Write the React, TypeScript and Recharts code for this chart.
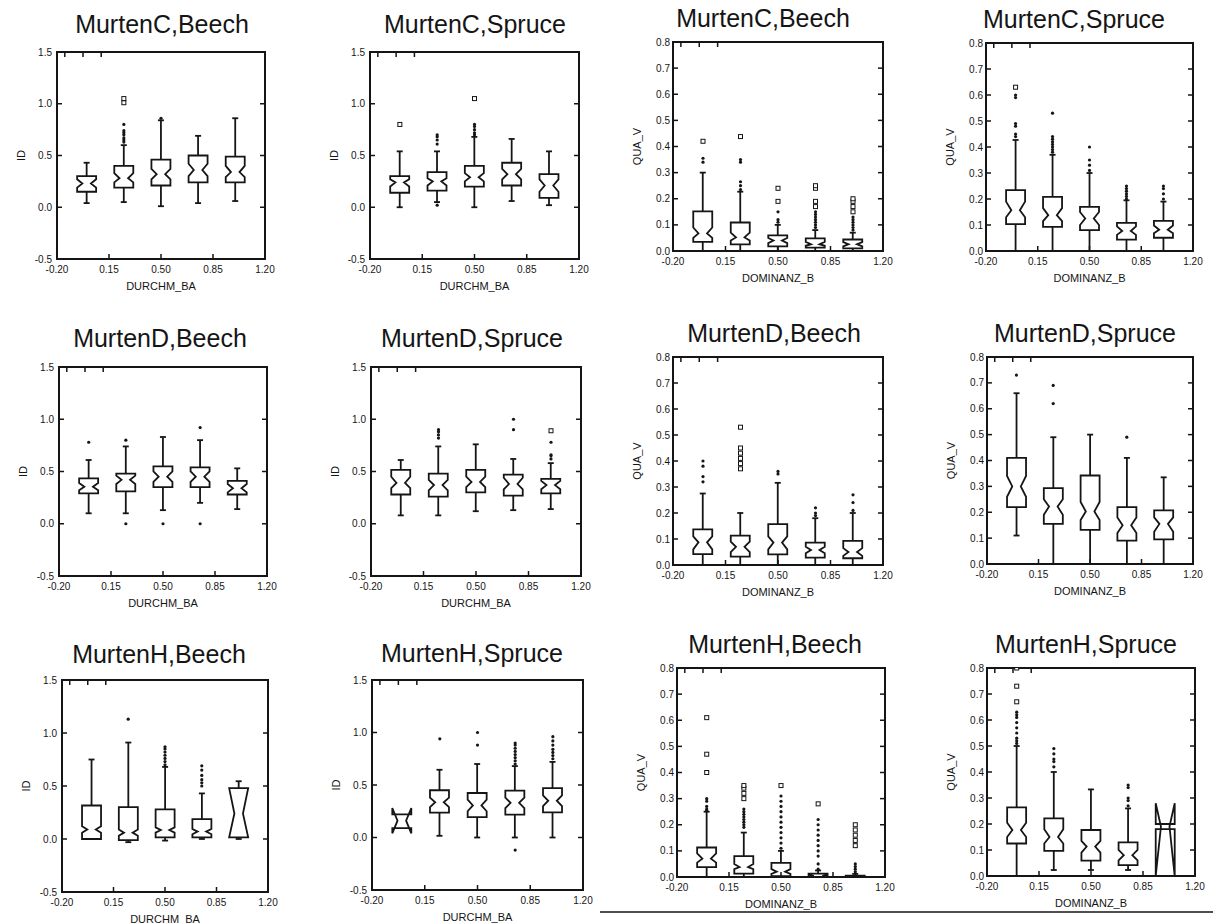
import React from "react";
import { ComposedChart, Bar, Scatter, XAxis, YAxis, ReferenceArea } from "recharts";

// box rows: [whiskerLow, q1, notchLow, median, notchHigh, q3, whiskerHigh]
const boxX = [0, 0.25, 0.5, 0.75, 1.0];
const xTicks = [-0.2, 0.15, 0.5, 0.85, 1.2];
const idTicks = [-0.5, 0, 0.5, 1.0, 1.5];
const quaTicks = [0, 0.1, 0.2, 0.3, 0.4, 0.5, 0.6, 0.7, 0.8];

// MurtenC
const cBeechId = [
  [0.04, 0.15, 0.19, 0.23, 0.27, 0.3, 0.43],
  [0.05, 0.19, 0.24, 0.28, 0.33, 0.4, 0.6],
  [0.01, 0.21, 0.27, 0.32, 0.37, 0.46, 0.84],
  [0.04, 0.24, 0.3, 0.36, 0.42, 0.5, 0.69],
  [0.06, 0.24, 0.29, 0.34, 0.4, 0.49, 0.86],
];
const cBeechIdNear = [[], [0.63, 0.65, 0.67, 0.7, 0.72, 0.74, 0.8], [0.86], [], []];
const cBeechIdFar = [[], [1.01, 1.05], [], [], []];

const cSpruceId = [
  [0.0, 0.14, 0.2, 0.24, 0.27, 0.3, 0.54],
  [0.05, 0.16, 0.21, 0.25, 0.28, 0.34, 0.54],
  [0.0, 0.2, 0.25, 0.29, 0.33, 0.4, 0.68],
  [0.06, 0.21, 0.27, 0.32, 0.37, 0.43, 0.66],
  [0.02, 0.09, 0.15, 0.21, 0.27, 0.32, 0.54],
];
const cSpruceIdNear = [[], [0.02, 0.61, 0.65, 0.68, 0.7], [0.7, 0.72, 0.75, 0.78, 0.8], [], []];
const cSpruceIdFar = [[0.8], [], [1.05], [], []];

const cBeechQua = [
  [0, 0.035, 0.05, 0.067, 0.09, 0.152, 0.3],
  [0, 0.025, 0.04, 0.052, 0.07, 0.109, 0.227],
  [0, 0.018, 0.03, 0.04, 0.05, 0.06, 0.1],
  [0, 0.013, 0.02, 0.026, 0.035, 0.048, 0.08],
  [0, 0.01, 0.018, 0.026, 0.034, 0.044, 0.07],
];
const cBeechQuaNear = [
  [0.34, 0.355],
  [0.235, 0.25, 0.265, 0.34, 0.35],
  [0.11, 0.12, 0.15],
  [0.09, 0.1, 0.11, 0.12, 0.13, 0.14, 0.15],
  [0.08, 0.09, 0.1, 0.11, 0.12, 0.13],
];
const cBeechQuaFar = [[0.42], [0.438], [0.19, 0.24], [0.17, 0.19, 0.24, 0.25], [0.15, 0.17, 0.19, 0.2]];

const cSpruceQua = [
  [0, 0.103, 0.13, 0.157, 0.19, 0.234, 0.427],
  [0, 0.093, 0.115, 0.138, 0.165, 0.208, 0.37],
  [0, 0.08, 0.1, 0.125, 0.15, 0.17, 0.3],
  [0, 0.044, 0.062, 0.077, 0.095, 0.108, 0.195],
  [0, 0.051, 0.068, 0.082, 0.098, 0.116, 0.19],
];
const cSpruceQuaNear = [
  [0.44, 0.45, 0.48, 0.49, 0.59, 0.6],
  [0.38, 0.39, 0.4, 0.41, 0.42, 0.43, 0.44, 0.53],
  [0.31, 0.33, 0.35, 0.4],
  [0.2, 0.21, 0.22, 0.23, 0.24, 0.25],
  [0.2, 0.22, 0.24, 0.25],
];
const cSpruceQuaFar = [[0.63], [], [], [], []];

// MurtenD
const dBeechId = [
  [0.1, 0.29, 0.32, 0.355, 0.39, 0.435, 0.61],
  [0.1, 0.31, 0.38, 0.42, 0.46, 0.48, 0.74],
  [0.13, 0.35, 0.4, 0.45, 0.5, 0.55, 0.83],
  [0.2, 0.35, 0.4, 0.45, 0.5, 0.54, 0.8],
  [0.14, 0.28, 0.3, 0.34, 0.38, 0.41, 0.53],
];
const dBeechIdNear = [[0.78], [0.0, 0.8], [0.0], [0.0, 0.92], []];
const dBeechIdFar = [[], [], [], [], []];

const dSpruceId = [
  [0.08, 0.28, 0.34, 0.39, 0.45, 0.515, 0.61],
  [0.08, 0.26, 0.32, 0.37, 0.42, 0.48, 0.74],
  [0.12, 0.3, 0.35, 0.4, 0.45, 0.515, 0.76],
  [0.13, 0.27, 0.33, 0.38, 0.44, 0.47, 0.62],
  [0.14, 0.29, 0.33, 0.37, 0.41, 0.43, 0.58],
];
const dSpruceIdNear = [[], [0.82, 0.85, 0.88, 0.9], [], [0.9, 1.0], [0.62, 0.65, 0.66, 0.78]];
const dSpruceIdFar = [[], [], [], [], [0.89]];

const dBeechQua = [
  [0, 0.042, 0.06, 0.087, 0.11, 0.137, 0.275],
  [0, 0.032, 0.05, 0.07, 0.09, 0.113, 0.2],
  [0, 0.041, 0.06, 0.086, 0.11, 0.157, 0.316],
  [0, 0.028, 0.045, 0.058, 0.07, 0.086, 0.18],
  [0, 0.026, 0.035, 0.05, 0.065, 0.093, 0.2],
];
const dBeechQuaNear = [[0.32, 0.34, 0.38, 0.4], [], [0.35, 0.36], [0.19, 0.2, 0.22], [0.21, 0.24, 0.27]];
const dBeechQuaFar = [[], [0.37, 0.39, 0.41, 0.43, 0.45, 0.53], [], [], []];

const dSpruceQua = [
  [0.11, 0.22, 0.26, 0.3, 0.34, 0.41, 0.66],
  [0, 0.155, 0.19, 0.222, 0.25, 0.293, 0.49],
  [0, 0.132, 0.17, 0.203, 0.24, 0.342, 0.5],
  [0, 0.09, 0.12, 0.15, 0.18, 0.22, 0.41],
  [0, 0.095, 0.125, 0.155, 0.18, 0.207, 0.335],
];
const dSpruceQuaNear = [[0.73], [0.62, 0.69], [], [0.49], []];
const dSpruceQuaFar = [[], [], [], [], []];

// MurtenH
const hBeechId = [
  [0.0, 0.0, 0.06, 0.09, 0.12, 0.316, 0.75],
  [-0.03, -0.01, 0.03, 0.06, 0.09, 0.3, 0.91],
  [-0.015, 0.016, 0.06, 0.085, 0.11, 0.28, 0.68],
  [0.0, 0.016, 0.045, 0.07, 0.095, 0.187, 0.43],
  [0.0, 0.016, 0.016, 0.24, 0.48, 0.48, 0.545],
];
const hBeechIdNear = [[], [1.13], [0.7, 0.73, 0.76, 0.79, 0.82, 0.85, 0.87], [0.5, 0.53, 0.56, 0.6, 0.65, 0.69], []];
const hBeechIdFar = [[], [], [], [], []];

const hSpruceId = [
  [0.09, 0.09, 0.04, 0.16, 0.28, 0.22, 0.22],
  [0.016, 0.236, 0.29, 0.336, 0.38, 0.45, 0.645],
  [0.0, 0.195, 0.25, 0.305, 0.36, 0.424, 0.7],
  [0.0, 0.217, 0.28, 0.33, 0.38, 0.447, 0.68],
  [0.0, 0.24, 0.3, 0.35, 0.4, 0.47, 0.72],
];
const hSpruceIdNear = [
  [],
  [0.94],
  [0.88, 1.0],
  [-0.12, 0.7, 0.73, 0.76, 0.79, 0.82, 0.85, 0.88, 0.9],
  [0.75, 0.78, 0.81, 0.84, 0.88, 0.92, 0.96],
];
const hSpruceIdFar = [[], [], [], [], []];

const hBeechQua = [
  [0, 0.038, 0.055, 0.07, 0.09, 0.113, 0.25],
  [0, 0.013, 0.03, 0.038, 0.05, 0.08, 0.17],
  [0, 0.003, 0.012, 0.02, 0.03, 0.054, 0.1],
  [0, 0.0, 0.002, 0.004, 0.008, 0.013, 0.025],
  [0, 0.0, 0.001, 0.002, 0.003, 0.005, 0.012],
];
const hBeechQuaNear = [
  [0.255, 0.26, 0.27, 0.29, 0.3],
  [0.19, 0.2, 0.21, 0.22, 0.23, 0.24, 0.25, 0.26],
  [0.11, 0.13, 0.15, 0.17, 0.19, 0.21, 0.23, 0.25, 0.27, 0.29, 0.31],
  [0.03, 0.05, 0.08, 0.1, 0.12, 0.14, 0.16, 0.18, 0.2, 0.22],
  [0.02, 0.03, 0.04, 0.05],
];
const hBeechQuaFar = [[0.4, 0.47, 0.61], [0.3, 0.32, 0.34, 0.35], [0.35], [0.28], [0.12, 0.14, 0.16, 0.18, 0.2]];

const hSpruceQua = [
  [0, 0.125, 0.15, 0.177, 0.205, 0.264, 0.5],
  [0.023, 0.097, 0.125, 0.15, 0.18, 0.222, 0.4],
  [0.023, 0.059, 0.09, 0.113, 0.135, 0.177, 0.333],
  [0.023, 0.042, 0.06, 0.08, 0.1, 0.129, 0.26],
  [0.18, 0.18, 0.0, 0.19, 0.28, 0.2, 0.2],
];
const hSpruceQuaNear = [
  [0.51, 0.52, 0.53, 0.55, 0.57, 0.59, 0.61, 0.62, 0.63],
  [0.42, 0.44, 0.45, 0.47, 0.49],
  [],
  [0.27, 0.29, 0.3, 0.34, 0.35],
  [],
];
const hSpruceQuaFar = [[0.67, 0.73, 0.8], [], [], [], []];

const panels = [
  { title: "MurtenC,Beech", kind: "id", stats: cBeechId, near: cBeechIdNear, far: cBeechIdFar },
  { title: "MurtenC,Spruce", kind: "id", stats: cSpruceId, near: cSpruceIdNear, far: cSpruceIdFar },
  { title: "MurtenC,Beech", kind: "qua", stats: cBeechQua, near: cBeechQuaNear, far: cBeechQuaFar },
  { title: "MurtenC,Spruce", kind: "qua", stats: cSpruceQua, near: cSpruceQuaNear, far: cSpruceQuaFar },
  { title: "MurtenD,Beech", kind: "id", stats: dBeechId, near: dBeechIdNear, far: dBeechIdFar },
  { title: "MurtenD,Spruce", kind: "id", stats: dSpruceId, near: dSpruceIdNear, far: dSpruceIdFar },
  { title: "MurtenD,Beech", kind: "qua", stats: dBeechQua, near: dBeechQuaNear, far: dBeechQuaFar },
  { title: "MurtenD,Spruce", kind: "qua", stats: dSpruceQua, near: dSpruceQuaNear, far: dSpruceQuaFar },
  { title: "MurtenH,Beech", kind: "id", stats: hBeechId, near: hBeechIdNear, far: hBeechIdFar },
  { title: "MurtenH,Spruce", kind: "id", stats: hSpruceId, near: hSpruceIdNear, far: hSpruceIdFar },
  { title: "MurtenH,Beech", kind: "qua", stats: hBeechQua, near: hBeechQuaNear, far: hBeechQuaFar },
  { title: "MurtenH,Spruce", kind: "qua", stats: hSpruceQua, near: hSpruceQuaNear, far: hSpruceQuaFar },
];

// plot-area placement of each panel on the page
const layout = [
  { left: 57, top: 52, w: 208, h: 207, tx: 162, ty: 33 },
  { left: 370, top: 52, w: 209, h: 207, tx: 475, ty: 33 },
  { left: 673, top: 42, w: 210, h: 209, tx: 763, ty: 27 },
  { left: 986, top: 43, w: 207, h: 208, tx: 1074, ty: 28 },
  { left: 59, top: 367, w: 208, h: 209, tx: 160, ty: 347 },
  { left: 371, top: 367, w: 210, h: 209, tx: 472, ty: 347 },
  { left: 673, top: 357, w: 210, h: 208, tx: 774, ty: 342 },
  { left: 987, top: 357, w: 206, h: 207, tx: 1085, ty: 342 },
  { left: 62, top: 680, w: 206, h: 212, tx: 159, ty: 663 },
  { left: 372, top: 680, w: 211, h: 210, tx: 472, ty: 662 },
  { left: 677, top: 668, w: 208, h: 209, tx: 775, ty: 653 },
  { left: 987, top: 668, w: 208, h: 208, tx: 1086, ty: 653 },
];

const INK = "#151515";
const FONT = "'Liberation Sans', Arial, Helvetica, sans-serif";
const Y_W = 42;
const X_H = 36;
const PAD_T = 5;
const PAD_R = 14;
const TICK = 5;
const X_GAP = 7;

function NotchBox(props: any) {
  const { x, y, width, height, payload } = props;
  if (!payload) return null;
  const [lo, hi] = payload.range;
  const [wl, q1, nl, md, nh, q3, wh] = payload.s;
  const py = (v: number) => y + (height * (hi - v)) / (hi - lo);
  const c = x + width / 2;
  const h = width / 2;
  const n = h * 0.45;
  const cap = 3;
  const d =
    `M${c - h},${py(q1)}L${c - h},${py(nl)}L${c - n},${py(md)}L${c - h},${py(nh)}L${c - h},${py(q3)}` +
    `L${c + h},${py(q3)}L${c + h},${py(nh)}L${c + n},${py(md)}L${c + h},${py(nl)}L${c + h},${py(q1)}Z`;
  return (
    <g stroke={INK} strokeWidth={1.8} fill="none">
      {wh > q3 && (
        <>
          <line x1={c} x2={c} y1={py(q3)} y2={py(wh)} />
          <line x1={c - cap} x2={c + cap} y1={py(wh)} y2={py(wh)} />
        </>
      )}
      {wl < q1 && (
        <>
          <line x1={c} x2={c} y1={py(q1)} y2={py(wl)} />
          <line x1={c - cap} x2={c + cap} y1={py(wl)} y2={py(wl)} />
        </>
      )}
      <path d={d} strokeLinejoin="miter" />
    </g>
  );
}

const NearDot = (p: any) => <circle cx={p.cx} cy={p.cy} r={1.6} fill={INK} />;
const FarSquare = (p: any) => (
  <rect x={p.cx - 2} y={p.cy - 2} width={4} height={4} fill="#fff" stroke={INK} strokeWidth={1} />
);

// tick renderers: label plus a short inward tick mark (not at the frame corners)
const isEdge = (v: number, ticks: number[]) => v === ticks[0] || v === ticks[ticks.length - 1];

const BottomTick = (p: any) => (
  <g>
    {!isEdge(p.payload.value, xTicks) && (
      <line x1={p.x} x2={p.x} y1={p.y - X_GAP} y2={p.y - X_GAP - TICK} stroke={INK} strokeWidth={1.5} />
    )}
    <text x={p.x} y={p.y} dy="0.71em" textAnchor="middle" fontSize={10} fontFamily={FONT} fill={INK}>
      {Number(p.payload.value).toFixed(2)}
    </text>
  </g>
);
const TopTick = (p: any) =>
  isEdge(p.payload.value, xTicks) ? <g /> : (
    <line x1={p.x} x2={p.x} y1={p.y} y2={p.y + TICK} stroke={INK} strokeWidth={1.5} />
  );
const makeLeftTick = (gap: number, ticks: number[]) => (p: any) => (
  <g>
    {!isEdge(p.payload.value, ticks) && (
      <line x1={p.x + gap} x2={p.x + gap + TICK} y1={p.y} y2={p.y} stroke={INK} strokeWidth={1.5} />
    )}
    <text x={p.x} y={p.y} dy="0.355em" textAnchor="end" fontSize={10} fontFamily={FONT} fill={INK}>
      {Number(p.payload.value).toFixed(1)}
    </text>
  </g>
);
const makeRightTick = (ticks: number[]) => (p: any) =>
  isEdge(p.payload.value, ticks) ? <g /> : (
    <line x1={p.x} x2={p.x - TICK} y1={p.y} y2={p.y} stroke={INK} strokeWidth={1.5} />
  );
const LeftTickId = makeLeftTick(5, idTicks);
const LeftTickQua = makeLeftTick(3, quaTicks);
const RightTickId = makeRightTick(idTicks);
const RightTickQua = makeRightTick(quaTicks);

function Panel({ panel, box }: { panel: (typeof panels)[number]; box: (typeof layout)[number] }) {
  const isId = panel.kind === "id";
  const yTicks = isId ? idTicks : quaTicks;
  const yDomain = isId ? [-0.5, 1.5] : [0, 0.8];
  const rows = panel.stats.map((s, i) => ({
    x: boxX[i],
    range: [Math.min(...s), Math.max(...s)],
    s,
  }));
  const nearPts = panel.near.flatMap((vals, i) => vals.map((v) => ({ x: boxX[i], y: v })));
  const farPts = panel.far.flatMap((vals, i) => vals.map((v) => ({ x: boxX[i], y: v })));

  return (
    <div style={{ position: "absolute", left: box.left - Y_W, top: box.top - PAD_T - 1 }}>
      <ComposedChart
        width={Y_W + box.w + 1 + PAD_R}
        height={PAD_T + 1 + box.h + X_H}
        data={rows}
        margin={{ top: PAD_T, right: PAD_R, bottom: 0, left: 0 }}
      >
        <XAxis
          dataKey="x"
          type="number"
          domain={[-0.2, 1.2]}
          ticks={xTicks}
          allowDataOverflow
          interval={0}
          height={X_H}
          tickSize={0}
          tickMargin={X_GAP}
          tick={BottomTick}
          axisLine={false}
          tickLine={false}
          label={{
            value: isId ? "DURCHM_BA" : "DOMINANZ_B",
            position: "insideBottom",
            offset: 5,
            style: { fontSize: 11, fill: INK, fontFamily: FONT },
          }}
        />
        <XAxis
          xAxisId="top"
          orientation="top"
          type="number"
          domain={[-0.2, 1.2]}
          ticks={xTicks}
          allowDataOverflow
          interval={0}
          height={1}
          tickSize={0}
          tickMargin={0}
          tick={TopTick}
          axisLine={false}
          tickLine={false}
        />
        <YAxis
          type="number"
          domain={yDomain}
          ticks={yTicks}
          allowDataOverflow
          interval={0}
          width={Y_W}
          tickSize={0}
          tickMargin={isId ? 5 : 3}
          tick={isId ? LeftTickId : LeftTickQua}
          axisLine={false}
          tickLine={false}
          label={{
            value: isId ? "ID" : "QUA_V",
            angle: -90,
            position: "insideLeft",
            offset: 6,
            style: { fontSize: 11, fill: INK, fontFamily: FONT, textAnchor: "middle" },
          }}
        />
        <YAxis
          yAxisId="right"
          orientation="right"
          type="number"
          domain={yDomain}
          ticks={yTicks}
          allowDataOverflow
          interval={0}
          width={1}
          tickSize={0}
          tickMargin={0}
          tick={isId ? RightTickId : RightTickQua}
          axisLine={false}
          tickLine={false}
        />
        <ReferenceArea
          x1={-0.2}
          x2={1.2}
          y1={yDomain[0]}
          y2={yDomain[1]}
          fill="none"
          fillOpacity={0}
          stroke={INK}
          strokeWidth={2}
          strokeOpacity={1}
          ifOverflow="visible"
        />
        <Bar dataKey="range" barSize={19} shape={NotchBox} isAnimationActive={false} />
        <Scatter data={nearPts} dataKey="y" shape={NearDot} isAnimationActive={false} />
        <Scatter data={farPts} dataKey="y" shape={FarSquare} isAnimationActive={false} />
      </ComposedChart>
    </div>
  );
}

export default function App() {
  return (
    <div style={{ position: "absolute", left: 0, top: 0, width: 1213, height: 924, background: "#fff" }}>
      <svg width={1213} height={924} style={{ position: "absolute", left: 0, top: 0 }}>
        {panels.map((p, i) => (
          <text
            key={i}
            x={layout[i].tx}
            y={layout[i].ty}
            textAnchor="middle"
            fontSize={25}
            fontFamily={FONT}
            fill={INK}
          >
            {p.title}
          </text>
        ))}
        <line x1={600} x2={1213} y1={912} y2={912} stroke={INK} strokeWidth={1.5} />
      </svg>
      {panels.map((p, i) => (
        <Panel key={i} panel={p} box={layout[i]} />
      ))}
    </div>
  );
}
